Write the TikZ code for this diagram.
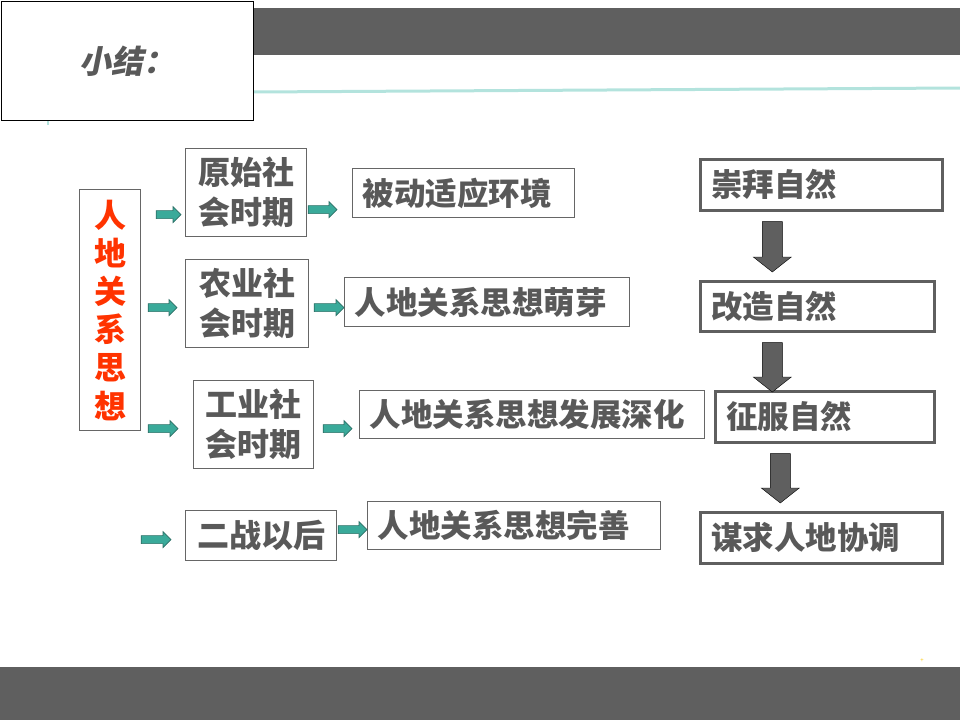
\documentclass[tikz,border=0pt]{standalone}
\usepackage{fontspec}
\setmainfont{Noto Sans CJK SC}
\newfontfamily\titlefont{Noto Sans CJK SC}[FakeSlant=0.2,BoldFeatures={FakeSlant=0.2}]
\usepackage{tikz}
\usetikzlibrary{calc}

\definecolor{bargray}{HTML}{5F5F5F}
\definecolor{txtgray}{HTML}{595959}
\definecolor{linegray}{HTML}{666666}
\definecolor{rulecyan}{HTML}{B3E3DD}
\definecolor{arrteal}{HTML}{3AAA9A}
\definecolor{arrdark}{HTML}{2C6F66}
\definecolor{keyred}{HTML}{FF3300}

\begin{document}
\begin{tikzpicture}[x=1pt, y=-1pt,
  box/.style={draw=linegray, line width=1.2pt, fill=white, anchor=north west,
    inner sep=0pt, text=txtgray, font=\fontsize{32}{40}\selectfont\bfseries},
  period/.style={box, align=center},
  desc/.style={box, align=left, inner xsep=10pt, font=\fontsize{31.5}{40}\selectfont\bfseries},
  stage/.style={desc, draw=bargray, line width=2.6pt, inner xsep=11pt},
  % flat block arrow, taken at the height of its target
  tealarr/.style={fill=arrteal, draw=arrdark, line width=0.6pt,
    to path={let \p1=(\tikztostart), \p2=(\tikztotarget) in
      (\x1,\y2+4pt) -- (\x2-8pt,\y2+4pt) -- (\x2-8pt,\y2+8pt) -- (\x2,\y2)
      -- (\x2-8pt,\y2-8pt) -- (\x2-8pt,\y2-4pt) -- (\x1,\y2-4pt) -- cycle}},
  % broad arrow pointing down, taken at the x of its start
  downarr/.style={fill=bargray,
    to path={let \p1=(\tikztostart), \p2=(\tikztotarget) in
      (\x1-10pt,\y1) -- (\x1+10pt,\y1) -- (\x1+10pt,\y2+15pt) -- (\x1+19pt,\y2+15pt)
      -- (\x1,\y2) -- (\x1-19pt,\y2+15pt) -- (\x1-10pt,\y2+15pt) -- cycle}}]
\useasboundingbox (0,0) rectangle (960,720);

% header and footer
\fill[bargray] (253,8) rectangle (960,55);
\fill[bargray] (0,667) rectangle (960,720);
\draw[rulecyan, line width=3pt] (253,92) -- (960,88);
\draw[rulecyan, line width=2pt] (48,120) -- (48,125);
\node[draw=black, line width=1.3pt, fill=white, anchor=north west,
  minimum width=252pt, minimum height=119pt, text=txtgray,
  font=\titlefont\fontsize{32}{32}\selectfont\bfseries] (title) at (1,1) {小结：};
\node[text=yellow!60!orange, font=\fontsize{6}{6}\selectfont] (mark) at (922,661) {+};

% left column
\node[period, text=keyred, minimum width=61pt, minimum height=241pt,
  font=\fontsize{32}{38.2}\selectfont\bfseries] (ren) at (79,189) {人\\地\\关\\系\\思\\想};

\node[period, minimum width=121pt, minimum height=88pt] (p1) at (185,148) {原始社\\会时期};
\node[period, minimum width=123pt, minimum height=88pt] (p2) at (185,259) {农业社\\会时期};
\node[period, minimum width=120pt, minimum height=88pt] (p3) at (193,380) {工业社\\会时期};
\node[period, minimum width=151pt, minimum height=50pt] (p4) at (185,510) {二战以后};

\node[desc, text width=202pt, minimum height=49pt] (d1) at (352,168) {被动适应环境};
\node[desc, text width=265pt, minimum height=49pt] (d2) at (344,277) {人地关系思想萌芽};
\node[desc, text width=325pt, minimum height=48pt] (d3) at (359,390) {人地关系思想发展深化};
\node[desc, text width=273pt, minimum height=48pt] (d4) at (367,501) {人地关系思想完善};

\draw[tealarr] ([xshift=15pt]ren.east) to ([xshift=-4pt,yshift=-22pt]p1.west);
\draw[tealarr] ([xshift=7pt]ren.east) to ([xshift=-8pt,yshift=-4pt]p2.west);
\draw[tealarr] ([xshift=7pt]ren.east) to ([xshift=-15pt,yshift=-4pt]p3.west);
\draw[tealarr] ([xshift=0pt]ren.east) to ([xshift=-14pt,yshift=-4pt]p4.west);

\draw[tealarr] ([xshift=1pt]p1.east) to ([xshift=-15pt,yshift=-16.5pt]d1.west);
\draw[tealarr] ([xshift=5pt]p2.east) to ([xshift=0pt,yshift=-5.5pt]d2.west);
\draw[tealarr] ([xshift=9pt]p3.east) to ([xshift=-7pt,yshift=-14pt]d3.west);
\draw[tealarr] ([xshift=1pt]p4.east) to ([xshift=0pt,yshift=-4pt]d4.west);

% right column
\node[stage, text width=220pt, minimum height=51pt] (r1) at (699,158) {崇拜自然};
\node[stage, text width=212pt, minimum height=50pt] (r2) at (699,280) {改造自然};
\node[stage, text width=197pt, minimum height=51pt] (r3) at (714,390) {征服自然};
\node[stage, text width=220pt, minimum height=51pt] (r4) at (699,511) {谋求人地协调};

\draw[downarr] ([xshift=-49pt,yshift=-10pt]r1.south) to ([yshift=8pt]r2.north);
\draw[downarr] ([xshift=-45pt,yshift=-10pt]r2.south) to ([yshift=-2pt]r3.north);
\draw[downarr] ([xshift=-44.5pt,yshift=-10pt]r3.south) to ([yshift=8pt]r4.north);
\end{tikzpicture}
\end{document}
